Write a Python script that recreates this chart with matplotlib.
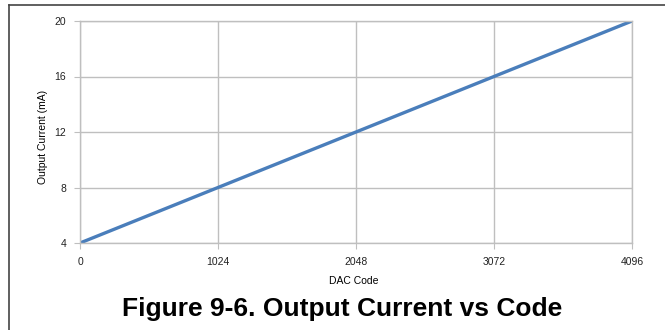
import matplotlib.pyplot as plt
from matplotlib.lines import Line2D

plt.rcParams['font.family'] = ['Liberation Sans', 'DejaVu Sans']

# DAC transfer curve: 0..4096 codes -> 4..20 mA
dac_code = [0, 1024, 2048, 3072, 4096]
current_ma = [4, 8, 12, 16, 20]
x_ticks = [0, 1024, 2048, 3072, 4096]
y_ticks = [4, 8, 12, 16, 20]

fig = plt.figure(figsize=(6.65, 3.3), dpi=100)
ax = fig.add_axes([80 / 665, 1 - 243 / 330, 552 / 665, 222 / 330])

ax.plot(dac_code, current_ma, color='#4a7ebb', lw=2.4, solid_capstyle='round')
ax.set_xlim(0, 4096)
ax.set_ylim(4, 20)
ax.set_xticks(x_ticks)
ax.set_yticks(y_ticks)
ax.grid(True, color='#bfbfbf', lw=1)
ax.set_axisbelow(True)
for s in ax.spines.values():
    s.set_color('#bfbfbf')
    s.set_linewidth(1)
ax.tick_params(axis='both', length=4, color='#bfbfbf', labelsize=7.5, labelcolor='#222222')
ax.tick_params(axis='x', pad=6)
ax.tick_params(axis='y', pad=6)
ax.set_xlabel('DAC Code', fontsize=7.5)
ax.xaxis.set_label_coords(0.496, (243 - 281) / 222)
ax.set_ylabel('Output Current (mA)', fontsize=7.5)
ax.yaxis.set_label_coords((43 - 80) / 552, (243 - 137) / 222)
ax.xaxis.label.set_va('center')
ax.yaxis.label.set_va('center')

fig.text(342 / 665, 1 - 316 / 330, 'Figure 9-6. Output Current vs Code',
         ha='center', va='baseline', fontsize=19, fontweight='bold')

# frame lines along the top and left of the figure
fig.add_artist(Line2D([9 / 665, 1], [1 - 5 / 330, 1 - 5 / 330], color='#444444', lw=1.2))
fig.add_artist(Line2D([9 / 665, 9 / 665], [0, 1 - 5 / 330], color='#444444', lw=1.2))

fig.savefig('out.png', dpi=100)
